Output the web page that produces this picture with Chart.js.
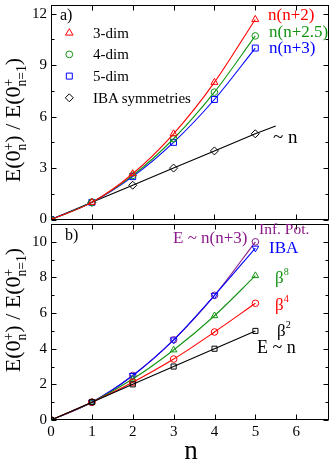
<!DOCTYPE html>
<html><head><meta charset="utf-8">
<script src="https://cdn.jsdelivr.net/npm/chart.js@4/dist/chart.umd.min.js"></script>
<style>
html,body{margin:0;padding:0;background:#fff;}
#wrap{position:relative;width:334px;height:463px;overflow:hidden;font-family:'Liberation Serif','Times New Roman',serif;color:#000;}
.box{position:absolute;left:0;width:334px;}
.t{position:absolute;white-space:nowrap;line-height:1;}
.yt{position:absolute;white-space:nowrap;line-height:1;font-size:22px;transform:translate(-50%,-50%) rotate(-90deg);}
.ss{display:inline-block;font-size:0.62em;line-height:0.95;vertical-align:-0.45em;text-align:left;}
.sp{font-size:0.6em;position:relative;top:-0.75em;}
</style></head>
<body><div id="wrap">
<div class="box" style="top:0;height:236px"><canvas id="ca"></canvas></div>
<div class="box" style="top:219px;height:244px"><canvas id="cb"></canvas></div>

<div class="yt" style="left:16px;top:120px">E(0<span class="ss">+<br>n</span>) / E(0<span class="ss">+<br>n=1</span>)</div>
<div class="yt" style="left:16px;top:310px">E(0<span class="ss">+<br>n</span>) / E(0<span class="ss">+<br>n=1</span>)</div>

<div class="t" style="left:60px;top:7px;font-size:16px">a)</div>
<div class="t" style="left:93px;top:25.8px;font-size:15px">3-dim</div>
<div class="t" style="left:93px;top:46.6px;font-size:15px">4-dim</div>
<div class="t" style="left:93px;top:68.6px;font-size:15px">5-dim</div>
<div class="t" style="left:93px;top:90.8px;font-size:15px">IBA symmetries</div>
<div class="t" style="left:268px;top:5.8px;font-size:17px;color:#ff0000">n(n+2)</div>
<div class="t" style="left:269px;top:23.1px;font-size:17px;color:#129412">n(n+2.5)</div>
<div class="t" style="left:269px;top:39.1px;font-size:17px;color:#0000ff">n(n+3)</div>
<div class="t" style="left:273px;top:126.8px;font-size:19px">~ n</div>

<div class="t" style="left:65px;top:226.6px;font-size:16px">b)</div>
<div class="t" style="left:259px;top:221px;font-size:15.5px;color:#8b1a8b">Inf. Pot.</div>
<div class="t" style="left:173px;top:228.8px;font-size:17px;color:#8b1a8b">E ~ n(n+3)</div>
<div class="t" style="left:269px;top:239.1px;font-size:17px;color:#0000ff">IBA</div>
<div class="t" style="left:275px;top:268.8px;font-size:17px;color:#129412">β<span class="sp">8</span></div>
<div class="t" style="left:275px;top:295.8px;font-size:17px;color:#ff0000">β<span class="sp">4</span></div>
<div class="t" style="left:277px;top:321.8px;font-size:17px">β<span class="sp">2</span></div>
<div class="t" style="left:257px;top:338.2px;font-size:18px">E ~ n</div>

<div class="t" style="left:191px;top:437.4px;font-size:27px;transform:translateX(-50%)">n</div>
</div>
<script>
// ---- data ----
const nValues = [0, 1, 2, 3, 4, 5];
// panel a
const dim3 = [0, 1, 2.67, 5, 8, 11.67];
const dim4 = [0, 1, 2.57, 4.71, 7.43, 10.71];
const dim5 = [0, 1, 2.5, 4.5, 7, 10];
const ibaSymX = [0, 1, 2, 3, 4, 5, 5.5];
const ibaSym = [0, 1, 2, 3, 4, 5, 5.46];
// panel b
const beta2 = [0, 1, 2, 3, 4, 5];
const beta4 = [0, 1, 2.12, 3.42, 4.94, 6.55];
const beta8 = [0, 1, 2.3, 3.93, 5.85, 8.1];
const ibaB = [0, 1, 2.5, 4.5, 7, 9.65];
const infPot = [0, 1, 2.5, 4.5, 7, 10];
// ticks
const aXMajor = [1, 2, 3, 4, 5, 6];
const aYMajor = [0, 3, 6, 9, 12];
const aYMinor = [1.5, 4.5, 7.5, 10.5];
const bXMajor = [0, 1, 2, 3, 4, 5, 6];
const bYMajor = [0, 2, 4, 6, 8, 10];
const bYMinor = [1, 3, 5, 7, 9];
const legendA = ['3-dim', '4-dim', '5-dim', 'IBA symmetries'];

const RED = '#ff0000', GREEN = '#129412', BLUE = '#0000ff', PURPLE = '#8b1a8b', BLACK = '#000000';
const FONT = "'Liberation Serif','Times New Roman',serif";

function pts(xs, ys) { return xs.map((x, i) => ({ x: x, y: ys[i] })); }

function ds(label, xs, ys, color, style, r, extra) {
  return Object.assign({
    label: label, data: pts(xs, ys), borderColor: color, backgroundColor: '#ffffff',
    borderWidth: 1.1, pointStyle: style, pointRadius: r, pointBorderWidth: 1,
    pointBorderColor: color, pointBackgroundColor: 'rgba(255,255,255,0)',
    cubicInterpolationMode: 'monotone', tension: 0.4, fill: false
  }, extra || {});
}

function marker(ctx, style, x, y, r, color) {
  ctx.save(); ctx.strokeStyle = color; ctx.lineWidth = 1; ctx.beginPath();
  if (style === 'triangle') {
    ctx.moveTo(x, y - r); ctx.lineTo(x + r * 0.95, y + r * 0.6); ctx.lineTo(x - r * 0.95, y + r * 0.6); ctx.closePath();
  } else if (style === 'circle') {
    ctx.arc(x, y, r * 0.85, 0, Math.PI * 2);
  } else if (style === 'rect') {
    ctx.rect(x - r * 0.75, y - r * 0.75, r * 1.5, r * 1.5);
  } else if (style === 'rectRot') {
    ctx.moveTo(x, y - r); ctx.lineTo(x + r, y); ctx.lineTo(x, y + r); ctx.lineTo(x - r, y); ctx.closePath();
  }
  ctx.stroke(); ctx.restore();
}

const frameTicks = {
  id: 'frameTicks',
  afterDraw(chart, args, o) {
    const ctx = chart.ctx, a = chart.chartArea, sx = chart.scales.x, sy = chart.scales.y;
    const L = Math.round(a.left) + 0.5, R = Math.round(a.right) - 0.5, T = Math.round(a.top) + 0.5, B = Math.round(a.bottom) - 0.5;
    ctx.save(); ctx.strokeStyle = '#000'; ctx.lineWidth = 1;
    ctx.strokeRect(L, T, R - L, B - T);
    ctx.beginPath();
    o.xMajor.forEach(v => { const p = Math.round(sx.getPixelForValue(v)) + 0.5; ctx.moveTo(p, B); ctx.lineTo(p, B - 5); ctx.moveTo(p, T); ctx.lineTo(p, T + 5); });
    o.yMajor.forEach(v => { const p = Math.round(sy.getPixelForValue(v)) + 0.5; ctx.moveTo(L, p); ctx.lineTo(L + 5, p); ctx.moveTo(R, p); ctx.lineTo(R - 5, p); });
    o.yMinor.forEach(v => { const p = Math.round(sy.getPixelForValue(v)) + 0.5; ctx.moveTo(L, p); ctx.lineTo(L + 3, p); ctx.moveTo(R, p); ctx.lineTo(R - 3, p); });
    ctx.stroke(); ctx.restore();
    if (o.legend) {
      const lg = o.legend;
      chart.data.datasets.forEach((d, i) => {
        marker(ctx, d.pointStyle, lg.x, lg.y + i * lg.dy, 4, d.borderColor);
      });
    }
  }
};

function baseOptions(yMax, yStep, xMax, showX, xHeight, pad, ft) {
  return {
    responsive: true, maintainAspectRatio: false, animation: false, devicePixelRatio: 1,
    layout: { padding: pad },
    plugins: { legend: { display: false }, tooltip: { enabled: false }, frameTicks: ft },
    scales: {
      x: {
        type: 'linear', min: 0, max: xMax,
        grid: { display: false, drawTicks: false }, border: { display: false },
        ticks: { display: showX, stepSize: 1, includeBounds: false, padding: 3, color: '#000', font: { family: FONT, size: 15 } },
        afterFit: s => { s.height = xHeight; s.paddingLeft = 0; s.paddingRight = 0; }
      },
      y: {
        type: 'linear', min: 0, max: yMax,
        grid: { display: false, drawTicks: false }, border: { display: false },
        ticks: { stepSize: yStep, includeBounds: false, padding: 4, color: '#000', font: { family: FONT, size: 15 } },
        afterFit: s => { s.width = 51; s.paddingTop = 0; s.paddingBottom = 0; }
      }
    }
  };
}

new Chart(document.getElementById('ca'), {
  type: 'line',
  data: {
    datasets: [
      ds(legendA[0], nValues, dim3, RED, 'triangle', 4),
      ds(legendA[1], nValues, dim4, GREEN, 'circle', 3.3),
      ds(legendA[2], nValues, dim5, BLUE, 'rect', 4.2),
      ds(legendA[3], ibaSymX, ibaSym, BLACK, 'rectRot', 4, { pointRadius: [4, 4, 4, 4, 4, 4, 0], cubicInterpolationMode: 'default', tension: 0 })
    ]
  },
  options: baseOptions(12.5, 3, 6.8, false, 16.5, { left: 0, right: 2, top: 1, bottom: 0 },
    { xMajor: aXMajor, yMajor: aYMajor, yMinor: aYMinor, legend: { x: 69.3, y: 32.7, dy: 21.7 } }),
  plugins: [frameTicks]
});

new Chart(document.getElementById('cb'), {
  type: 'line',
  data: {
    datasets: [
      ds('β2', nValues, beta2, BLACK, 'rect', 3.6, { cubicInterpolationMode: 'default', tension: 0 }),
      ds('β4', nValues, beta4, RED, 'circle', 3.3),
      ds('β8', nValues, beta8, GREEN, 'triangle', 3.8),
      ds('IBA', nValues, ibaB, BLUE, 'triangle', 3.8, { rotation: 180 }),
      ds('Inf. Pot.', nValues, infPot, PURPLE, 'circle', 3.3)
    ]
  },
  options: baseOptions(11, 2, 6.8, true, 43, { left: 0, right: 2, top: 1, bottom: 0 },
    { xMajor: bXMajor, yMajor: bYMajor, yMinor: bYMinor }),
  plugins: [frameTicks]
});
</script>
</body></html>
